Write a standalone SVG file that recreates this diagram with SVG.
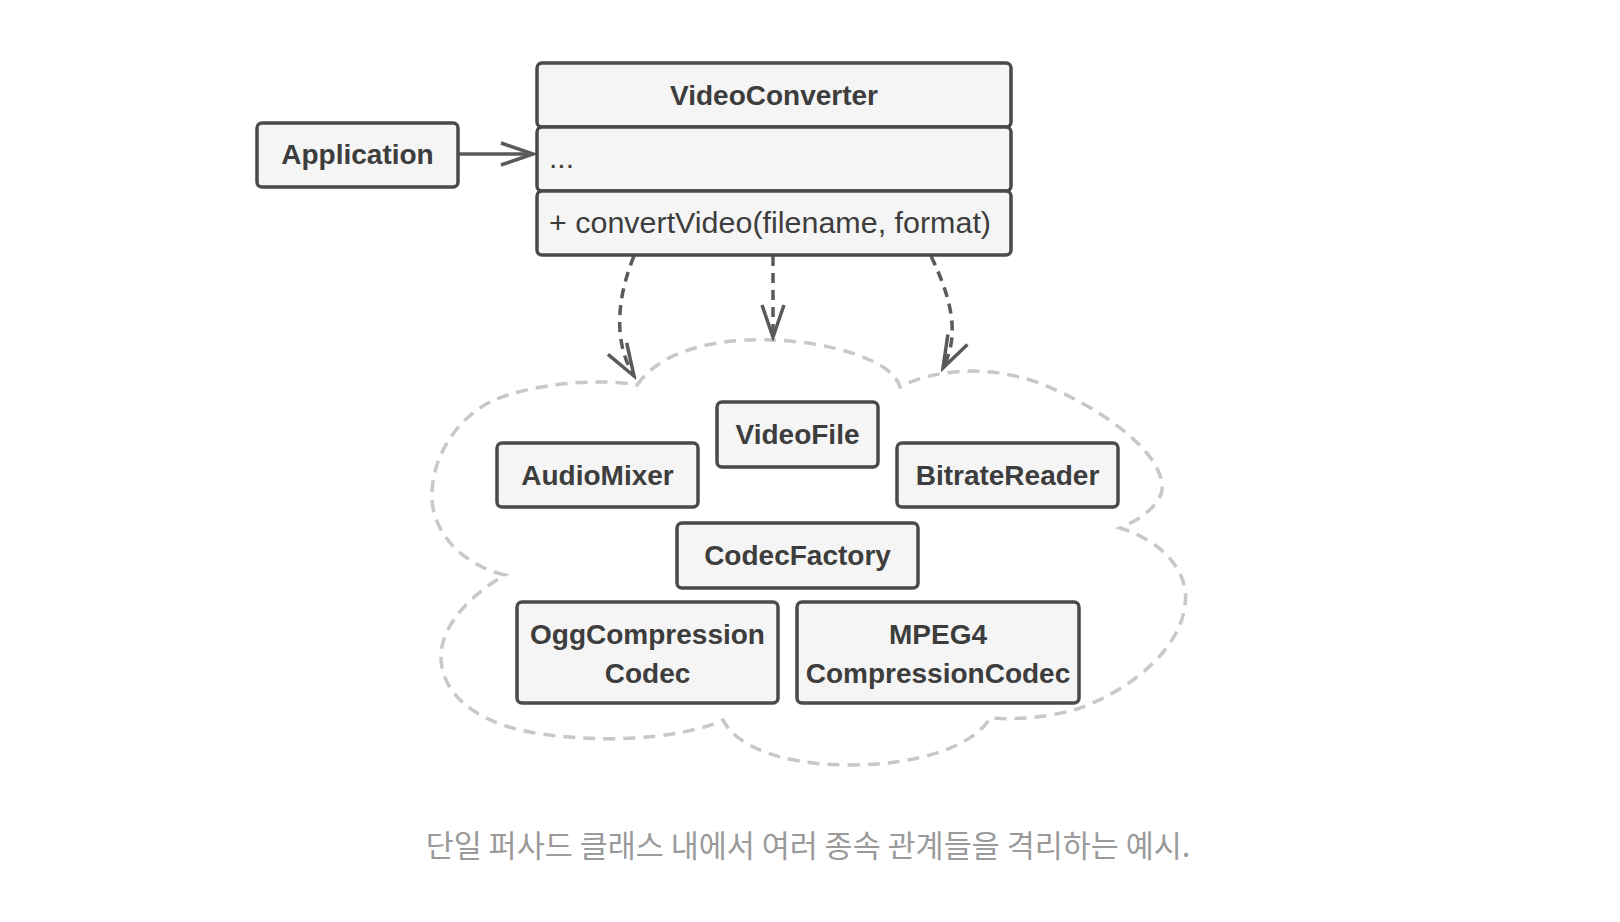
<svg xmlns="http://www.w3.org/2000/svg" width="1620" height="922" viewBox="0 0 1620 922">
<style>
.box{fill:#f5f5f5;stroke:#4a4a4a;stroke-width:3.5}
.t{font-family:"Liberation Sans",Arial,sans-serif;font-size:28px;font-weight:bold;fill:#3d3d3d;text-anchor:middle}
.m{font-family:"Liberation Sans",Arial,sans-serif;font-size:30px;fill:#3d3d3d}
.dep{fill:none;stroke:#5a5a5a;stroke-width:3.5;stroke-dasharray:10 7}
.assoc{fill:none;stroke:#5a5a5a;stroke-width:3.5}
.cloud{fill:none;stroke:#c8c8c8;stroke-width:3.5;stroke-dasharray:12 8}
.cap{font-family:"Noto Sans CJK KR","Noto Sans",sans-serif;font-size:30.5px;fill:#9a9a9a;text-anchor:middle}
</style>
<defs>
<marker id="open" markerUnits="userSpaceOnUse" viewBox="-36 -15 40 30" markerWidth="40" markerHeight="30" refX="0" refY="0" orient="auto">
<path d="M-32,-11 L0,0 L-32,11" fill="none" stroke="#5a5a5a" stroke-width="3.5" stroke-dasharray="none"/>
</marker>
</defs>
<rect width="1620" height="922" fill="#ffffff"/>
<g id="cloud">
<path class="cloud" d="M637,385 C665,345 730,338 773,340 C830,342 893,360 900,387 C935,368 1000,362 1060,392 C1120,420 1165,460 1162,490 C1160,505 1140,520 1120,528 C1160,540 1190,570 1185,605 C1180,650 1130,690 1080,708 C1050,718 1010,720 990,718 C975,745 920,765 850,765 C780,765 735,745 723,720 C680,740 590,745 520,730 C470,718 440,690 441,655 C442,625 470,595 505,575 C470,567 435,540 432,500 C430,460 455,420 490,402 C530,383 600,378 637,385 Z"/>
</g>
<g id="connectors">
<path class="assoc" d="M458,154 L533,154" marker-end="url(#open)"/>
<path class="dep" d="M634,256 C618,295 612,340 634,376" marker-end="url(#open)"/>
<path class="dep" d="M773,256 L773,337" marker-end="url(#open)"/>
<path class="dep" d="M931,256 C952,300 960,335 943,368" marker-end="url(#open)"/>
</g>
<g id="Application">
<rect class="box" x="257" y="123" width="201" height="64" rx="5"/>
<text class="t" x="357.5" y="164">Application</text>
</g>
<g id="VideoConverter">
<rect class="box" x="537" y="63" width="474" height="64" rx="5"/>
<rect class="box" x="537" y="127" width="474" height="64" rx="5"/>
<rect class="box" x="537" y="191" width="474" height="64" rx="5"/>
<text class="t" x="774" y="105">VideoConverter</text>
<text class="m" x="549" y="168">...</text>
<text class="m" x="549" y="233" textLength="442" lengthAdjust="spacingAndGlyphs">+ convertVideo(filename, format)</text>
</g>
<g id="VideoFile">
<rect class="box" x="717" y="402" width="161" height="65" rx="5"/>
<text class="t" x="797.5" y="444">VideoFile</text>
</g>
<g id="AudioMixer">
<rect class="box" x="497" y="443" width="201" height="64" rx="5"/>
<text class="t" x="597.5" y="485">AudioMixer</text>
</g>
<g id="BitrateReader">
<rect class="box" x="897" y="443" width="221" height="64" rx="5"/>
<text class="t" x="1007.5" y="485">BitrateReader</text>
</g>
<g id="CodecFactory">
<rect class="box" x="677" y="523" width="241" height="65" rx="5"/>
<text class="t" x="797.5" y="565">CodecFactory</text>
</g>
<g id="OggCompressionCodec">
<rect class="box" x="517" y="602" width="261" height="101" rx="5"/>
<text class="t" x="647.5" y="644">OggCompression</text>
<text class="t" x="647.5" y="683">Codec</text>
</g>
<g id="MPEG4CompressionCodec">
<rect class="box" x="797" y="602" width="282" height="101" rx="5"/>
<text class="t" x="938" y="644">MPEG4</text>
<text class="t" x="938" y="683">CompressionCodec</text>
</g>
<text class="cap" x="808" y="857">단일 퍼사드 클래스 내에서 여러 종속 관계들을 격리하는 예시.</text>
</svg>
